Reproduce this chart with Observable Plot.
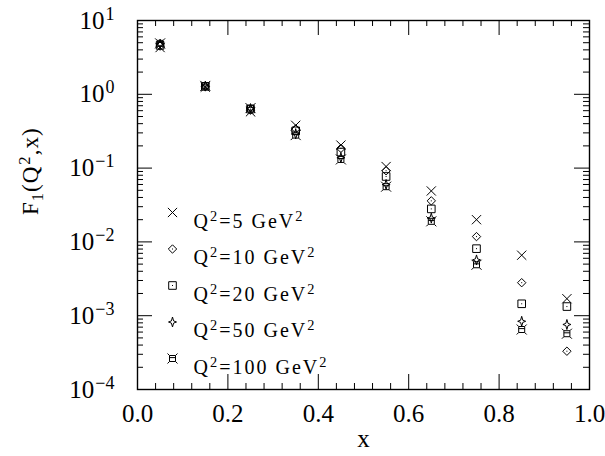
<!DOCTYPE html>
<html>
<head>
<meta charset="utf-8">
<script src="https://cdn.jsdelivr.net/npm/d3@7"></script>
<script src="https://cdn.jsdelivr.net/npm/@observablehq/plot@0.6"></script>
<style>
  html, body { margin: 0; padding: 0; background: #fff; }
</style>
</head>
<body>
<div id="chart"></div>
<script>
// ---- data ----
const xValues = [0.05, 0.15, 0.25, 0.35, 0.45, 0.55, 0.65, 0.75, 0.85, 0.95];
const q2Labels = ["Q^{2}=5 GeV^{2}", "Q^{2}=10 GeV^{2}", "Q^{2}=20 GeV^{2}", "Q^{2}=50 GeV^{2}", "Q^{2}=100 GeV^{2}"];
const f1Q5   = [4.3, 1.25, 0.58, 0.38, 0.205, 0.105, 0.049, 0.0200, 0.0066, 0.00170];
const f1Q10  = [4.5, 1.27, 0.61, 0.34, 0.185, 0.092, 0.036, 0.0118, 0.0028, 0.00033];
const f1Q20  = [4.6, 1.28, 0.63, 0.32, 0.165, 0.077, 0.028, 0.0081, 0.00145, 0.00133];
const f1Q50  = [4.8, 1.29, 0.64, 0.29, 0.138, 0.060, 0.021, 0.0057, 0.00084, 0.00076];
const f1Q100 = [4.9, 1.30, 0.65, 0.28, 0.131, 0.056, 0.019, 0.0049, 0.00065, 0.00057];
const xTickValues = [0, 0.2, 0.4, 0.6, 0.8, 1.0];
const xMinorTicks = d3.range(0, 25).map(i => i * 0.04).filter(v => Math.abs(v / 0.2 - Math.round(v / 0.2)) > 1e-6);
const yTickValues = [10, 1, 0.1, 0.01, 0.001, 0.0001];
const yMinorTicks = [0.0001, 0.001, 0.01, 0.1, 1].flatMap(d => [2,3,4,5,6,7,8,9].map(k => +(k * d).toPrecision(3)));

// ---- symbols ----
const symCross = {draw(c, s) { const r = Math.sqrt(s / Math.PI); c.moveTo(-r, -r); c.lineTo(r, r); c.moveTo(-r, r); c.lineTo(r, -r); }};
const symDiamond = {draw(c, s) { const r = Math.sqrt(s / Math.PI); c.moveTo(0, -r); c.lineTo(r, 0); c.lineTo(0, r); c.lineTo(-r, 0); c.closePath(); c.moveTo(-0.5, 0); c.lineTo(0.5, 0); }};
const symSquare = {draw(c, s) { const r = Math.sqrt(s / Math.PI); c.moveTo(-r, -r); c.lineTo(r, -r); c.lineTo(r, r); c.lineTo(-r, r); c.closePath(); c.moveTo(-0.5, 0); c.lineTo(0.5, 0); }};
const symStar = {draw(c, s) { const r = Math.sqrt(s / Math.PI); const a = r * 0.22;
  c.moveTo(0, -r); c.lineTo(a, -a); c.lineTo(r * 0.8, 0); c.lineTo(a, a); c.lineTo(0, r); c.lineTo(-a, a); c.lineTo(-r * 0.8, 0); c.lineTo(-a, -a); c.closePath(); }};
const symBoxStar = {draw(c, s) { const r = Math.sqrt(s / Math.PI); const h = r * 0.6;
  c.moveTo(-h, -h); c.lineTo(h, -h); c.lineTo(h, h); c.lineTo(-h, h); c.closePath();
  c.moveTo(-h, -h); c.lineTo(-r, -r); c.moveTo(h, -h); c.lineTo(r, -r);
  c.moveTo(-h, h); c.lineTo(-r, r); c.moveTo(h, h); c.lineTo(r, r);
  c.moveTo(-h, -h*0.3); c.lineTo(h, -h*0.3); }};

const seriesList = [
  {values: f1Q5, symbol: symCross, r: 4.6},
  {values: f1Q10, symbol: symDiamond, r: 4.2},
  {values: f1Q20, symbol: symSquare, r: 3.8},
  {values: f1Q50, symbol: symStar, r: 5},
  {values: f1Q100, symbol: symBoxStar, r: 5}
];

// ---- layout ----
const W = 605, H = 456;
const mL = 137, mR = 16, mT = 20, mB = 67;
const pW = W - mL - mR, pH = H - mT - mB;
const majorLen = 15, minorLen = 6;
const tickStyle = {stroke: "black", strokeWidth: 1};

const marks = [];
// ticks (inward, mirrored on all sides)
marks.push(Plot.tickX(xTickValues, {x: d => d, insetTop: pH - majorLen, ...tickStyle}));
marks.push(Plot.tickX(xTickValues, {x: d => d, insetBottom: pH - majorLen, ...tickStyle}));
marks.push(Plot.tickX(xMinorTicks, {x: d => d, insetTop: pH - minorLen, ...tickStyle}));
marks.push(Plot.tickX(xMinorTicks, {x: d => d, insetBottom: pH - minorLen, ...tickStyle}));
marks.push(Plot.tickY(yTickValues, {y: d => d, insetRight: pW - majorLen, ...tickStyle}));
marks.push(Plot.tickY(yTickValues, {y: d => d, insetLeft: pW - majorLen, ...tickStyle}));
marks.push(Plot.tickY(yMinorTicks, {y: d => d, insetRight: pW - minorLen, ...tickStyle}));
marks.push(Plot.tickY(yMinorTicks, {y: d => d, insetLeft: pW - minorLen, ...tickStyle}));
marks.push(Plot.frame({stroke: "black", strokeWidth: 1.4}));

// axes labels
marks.push(Plot.axisX({ticks: xTickValues, tickSize: 0, tickPadding: 15, tickFormat: d3.format(".1f"), fontSize: 25, label: null}));
marks.push(Plot.axisY({ticks: yTickValues, tickSize: 0, tickPadding: 23, tickFormat: d => `10^{${Math.round(Math.log10(d)).toString().replace("-", "\u2212")}}`, fontSize: 25, label: null}));
marks.push(Plot.text(["x"], {frameAnchor: "bottom", dy: 57, fontSize: 25}));
marks.push(Plot.text(["F_{1}(Q^{2},x)"], {frameAnchor: "left", dx: -107, dy: 10, rotate: -90, fontSize: 23}));

// data
seriesList.forEach(s => {
  marks.push(Plot.dot(xValues, {x: d => d, y: (d, i) => s.values[i], symbol: s.symbol, r: s.r, stroke: "black", strokeWidth: 1, fill: "none"}));
});

// legend
seriesList.forEach((s, i) => {
  const dy = 192 + i * 36.5;
  marks.push(Plot.dot([q2Labels[i]], {x: null, y: null, frameAnchor: "top-left", dx: 35, dy, symbol: s.symbol, r: s.r, stroke: "black", strokeWidth: 1, fill: "none"}));
  marks.push(Plot.text([q2Labels[i]], {frameAnchor: "top-left", dx: 56, dy: dy + 1, text: d => d, textAnchor: "start", fontSize: 20}));
});

const svg = Plot.plot({
  width: W, height: H,
  marginLeft: mL, marginRight: mR, marginTop: mT, marginBottom: mB,
  x: {domain: [0, 1]},
  y: {type: "log", domain: [1e-4, 10]},
  axis: null,
  style: {fontFamily: "'Liberation Serif', serif", color: "black", background: "white"},
  marks
});
document.getElementById("chart").appendChild(svg);

// ---- render ^{..} / _{..} as tspans ----
d3.select(svg).selectAll("text").each(function () {
  const el = this;
  if (el.querySelector("tspan")) return;
  const s = el.textContent;
  if (!/[\^_]\{/.test(s)) return;
  const fs = parseFloat(getComputedStyle(el).fontSize) || 20;
  const parts = [];
  const re = /([\^_])\{([^}]*)\}/g;
  let last = 0, m;
  while ((m = re.exec(s))) {
    if (m.index > last) parts.push({t: s.slice(last, m.index), k: ""});
    parts.push({t: m[2], k: m[1]});
    last = re.lastIndex;
  }
  if (last < s.length) parts.push({t: s.slice(last), k: ""});
  el.textContent = "";
  let shift = 0;
  const isLegend = /GeV/.test(s);
  for (const p of parts) {
    const ts = document.createElementNS("http://www.w3.org/2000/svg", "tspan");
    const target = p.k === "^" ? -0.36 * fs : p.k === "_" ? 0.22 * fs : 0;
    ts.setAttribute("dy", (target - shift).toFixed(2));
    shift = target;
    if (p.k) ts.setAttribute("font-size", (0.72 * fs).toFixed(1));
    if (p.k === "^" && !isLegend) ts.setAttribute("dx", "1");
    ts.textContent = p.t;
    el.appendChild(ts);
  }
  if (isLegend) el.setAttribute("letter-spacing", "2");
  if (/F/.test(s)) el.setAttribute("letter-spacing", "1");
});
</script>
</body>
</html>
